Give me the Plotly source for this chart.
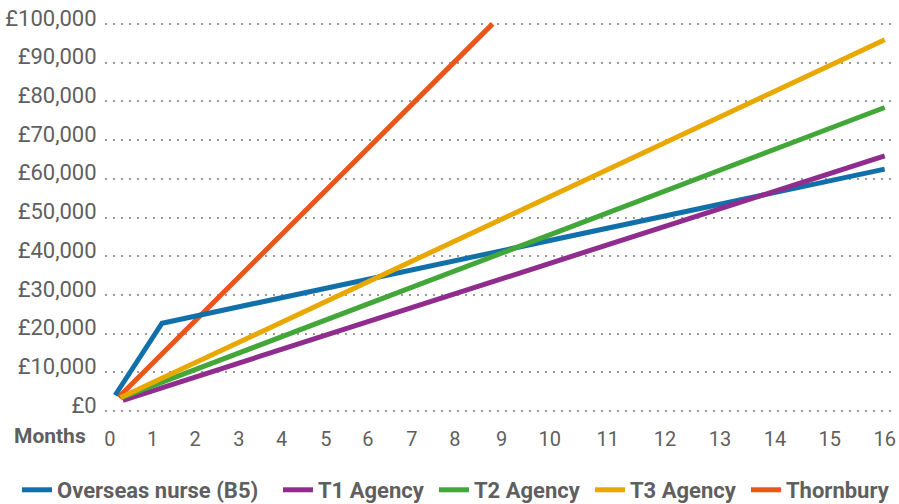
import plotly.graph_objects as go

# x positions are in chart units (labels on the axis are unevenly spaced in the source)
tick_positions = [0, 0.99, 1.98, 3.0, 3.99, 5.02, 6.0, 7.02, 8.02, 9.11,
                  10.23, 11.58, 12.91, 14.19, 15.47, 16.74, 18.02]
tick_labels = [str(i) for i in range(17)]

y_ticks = [0, 10000, 20000, 30000, 40000, 50000, 60000, 70000, 80000, 90000, 100000]
y_tick_labels = ["£0", "£10,000", "£20,000", "£30,000", "£40,000", "£50,000",
                 "£60,000", "£70,000", "£80,000", "£90,000", "£100,000"]

overseas_x = [0.12, 1.21, 18.02]
overseas_y = [4100, 22700, 62500]
t1_x = [0.3, 18.02]
t1_y = [2800, 65900]
t2_x = [0.25, 18.02]
t2_y = [3400, 78400]
t3_x = [0.25, 18.02]
t3_y = [3500, 95900]
thornbury_x = [0.2, 8.9]
thornbury_y = [3600, 100000]

series = [
    ("Thornbury", thornbury_x, thornbury_y, "#e8561a", "legend2", 4),
    ("Overseas nurse (B5)", overseas_x, overseas_y, "#1170aa", "legend", 0),
    ("T1 Agency", t1_x, t1_y, "#902c8e", "legend2", 1),
    ("T2 Agency", t2_x, t2_y, "#42a738", "legend2", 2),
    ("T3 Agency", t3_x, t3_y, "#e9a800", "legend2", 3),
]

fig = go.Figure()
for name, xs, ys, color, lg, rank in series:
    fig.add_trace(go.Scatter(
        x=xs, y=ys, name=name, mode="lines",
        line=dict(color=color, width=5),
        legend=lg, legendrank=rank,
    ))

font_family = "Roboto, 'DejaVu Sans', sans-serif"
grey = "#5f5f5f"

legend_common = dict(
    orientation="h", xref="container", yref="container",
    yanchor="middle", xanchor="left",
    font=dict(family=font_family, size=22, color=grey, weight="bold"),
    bgcolor="rgba(0,0,0,0)", itemwidth=30,
)

fig.update_layout(
    width=899, height=504,
    margin=dict(l=105, r=7, t=20, b=89, autoexpand=False),
    paper_bgcolor="white", plot_bgcolor="white",
    font=dict(family=font_family, color=grey),
    xaxis=dict(
        range=[-0.116, 18.19], automargin=False,
        tickmode="array", tickvals=tick_positions, ticktext=tick_labels,
        showgrid=False, zeroline=False, showline=False,
        ticks="outside", ticklen=6, tickcolor="rgba(0,0,0,0)",
        tickfont=dict(family=font_family, size=20, color=grey),
    ),
    yaxis=dict(
        range=[-1000, 101000], automargin=False,
        tickmode="array", tickvals=y_ticks, ticktext=y_tick_labels,
        showgrid=True, gridcolor="#9a9a9a", gridwidth=2, griddash="2px,6px",
        zeroline=False, showline=False,
        ticks="outside", ticklen=3, tickcolor="rgba(0,0,0,0)",
        ticklabelshift=-6,
        tickfont=dict(family=font_family, size=22, color=grey),
    ),
    showlegend=True,
    legend=dict(x=0.0189, y=0.0278, traceorder="normal", **legend_common),
    legend2=dict(x=0.3092, y=0.0278, traceorder="normal", entrywidth=111, **legend_common),
    annotations=[dict(
        text="<b>Months</b>", xref="paper", yref="paper",
        x=-0.0216, y=-0.053, xanchor="right", yanchor="middle",
        showarrow=False, font=dict(family=font_family, size=21, color=grey),
    )],
)

fig.write_html("out.html", config={"displayModeBar": False},
               post_script="document.body.style.margin='0';")
